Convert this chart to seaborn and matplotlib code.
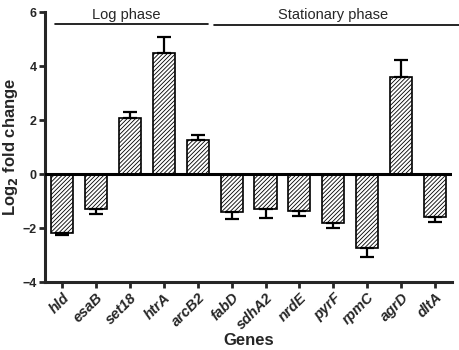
import matplotlib
matplotlib.use('Agg')
import matplotlib.pyplot as plt
import numpy as np
import pandas as pd
import seaborn as sns

genes = ['hld', 'esaB', 'set18', 'htrA', 'arcB2', 'fabD', 'sdhA2', 'nrdE',
         'pyrF', 'rpmC', 'agrD', 'dltA']
log2fc = [-2.18, -1.3, 2.08, 4.48, 1.26, -1.4, -1.3, -1.36, -1.82, -2.73, 3.59, -1.6]
sem = [0.08, 0.18, 0.22, 0.62, 0.18, 0.27, 0.33, 0.2, 0.18, 0.33, 0.63, 0.17]

sns.set_style('ticks')
plt.rcParams['font.family'] = ['Liberation Sans', 'DejaVu Sans']
plt.rcParams['hatch.linewidth'] = 0.6

df = pd.DataFrame({'gene': genes, 'fc': log2fc})

fig = plt.figure(figsize=(4.59, 3.5), dpi=100)
ax = fig.add_axes([0.098, 0.194, 0.887, 0.771])

sns.barplot(ax=ax, data=df, x='gene', y='fc', color='white', width=0.65,
            edgecolor='black', linewidth=1.2, errorbar=None, saturation=1)
for p in ax.patches:
    p.set_hatch('////////')

# one-sided error bars, away from zero
fc = np.array(log2fc)
err = np.array(sem)
lower = np.where(fc < 0, err, 0)
upper = np.where(fc > 0, err, 0)
ax.errorbar(np.arange(len(genes)), fc, yerr=[lower, upper], fmt='none',
            ecolor='black', elinewidth=1.6, capsize=5, capthick=1.6)

ax.set_ylim(-4, 6)
ax.set_xlim(-0.5, 11.5)
ax.set_yticks([-4, -2, 0, 2, 4, 6])
ax.axhline(0, color='black', lw=2.2, zorder=5)
for s in ['top', 'right']:
    ax.spines[s].set_visible(False)
for s in ['left', 'bottom']:
    ax.spines[s].set_linewidth(2.2)
ax.tick_params(width=2, length=4, labelsize=9, pad=2)
for t in ax.get_yticklabels():
    t.set_fontweight('bold')
ax.set_xticks(range(len(genes)))
ax.set_xticklabels(genes, rotation=45, ha='right', rotation_mode='anchor',
                   fontstyle='italic', fontweight='bold', fontsize=10.5)
ax.set_xlabel('Genes', fontsize=12, fontweight='bold', labelpad=1)
ax.set_ylabel(r'Log$_\mathbf{2}$ fold change', fontsize=12, fontweight='bold',
              va='center')
ax.yaxis.set_label_coords(-0.085, 0.5)

# phase annotations
ax.plot([-0.21, 4.3], [5.56, 5.56], color='black', lw=1.2, clip_on=False)
ax.plot([4.48, 11.7], [5.52, 5.52], color='black', lw=1.2, clip_on=False)
ax.text(1.9, 5.76, 'Log phase', ha='center', va='baseline', fontsize=10.5)
ax.text(8.0, 5.76, 'Stationary phase', ha='center', va='baseline', fontsize=10.5)

fig.savefig('out.png', dpi=100)
